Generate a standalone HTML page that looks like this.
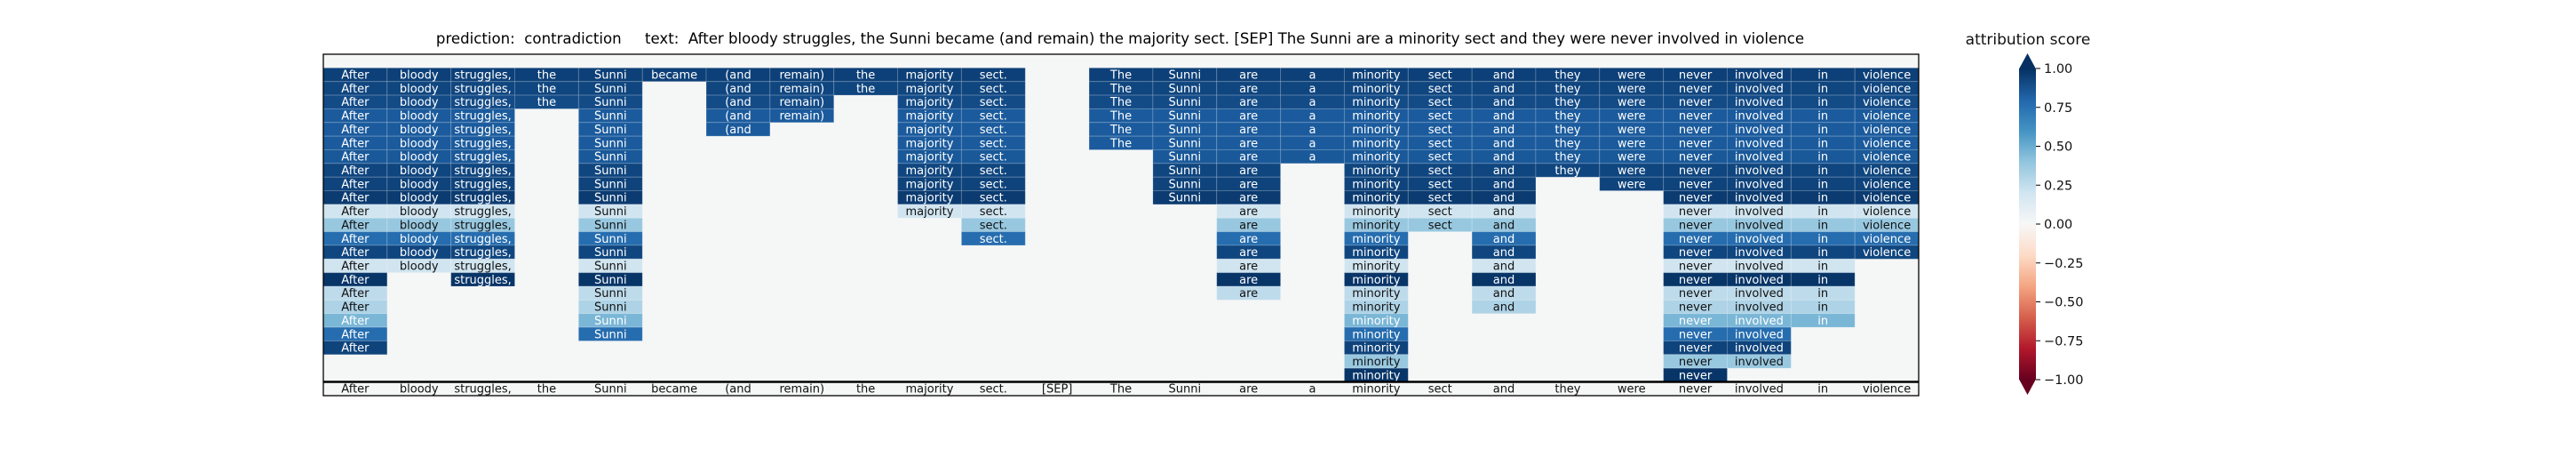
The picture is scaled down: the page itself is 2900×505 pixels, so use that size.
<!DOCTYPE html>
<html><head><meta charset="utf-8">
<style>
html,body{margin:0;padding:0;background:#fff;}
svg text{font-family:"DejaVu Sans","Liberation Sans",sans-serif;}
</style></head>
<body>
<svg id="chart" width="2900" height="500" viewBox="0 0 2900 500" xmlns="http://www.w3.org/2000/svg">
<defs>
<linearGradient id="rdbu" x1="0" y1="1" x2="0" y2="0">
<stop offset="0" stop-color="#67001f"/><stop offset="0.1" stop-color="#b2182b"/><stop offset="0.2" stop-color="#d6604d"/><stop offset="0.3" stop-color="#f4a582"/><stop offset="0.4" stop-color="#fddbc7"/><stop offset="0.5" stop-color="#f7f7f7"/><stop offset="0.6" stop-color="#d1e5f0"/><stop offset="0.7" stop-color="#92c5de"/><stop offset="0.8" stop-color="#4393c3"/><stop offset="0.9" stop-color="#2166ac"/><stop offset="1" stop-color="#053061"/>
</linearGradient>
</defs>
<text x="1261" y="49" font-size="16.6" text-anchor="middle" xml:space="preserve">prediction:  contradiction     text:  After bloody struggles, the Sunni became (and remain) the majority sect. [SEP] The Sunni are a minority sect and they were never involved in violence</text>
<g id="heat"></g>
<g id="cbar"></g>
</svg>
<script>
// Data
const tokens = ["After","bloody","struggles,","the","Sunni","became","(and","remain)","the","majority","sect.","[SEP]","The","Sunni","are","a","minority","sect","and","they","were","never","involved","in","violence"];
// number of filled rows (from top) per token column
const rowCounts = [21,15,16,3,20,1,5,4,2,11,13,0,6,10,17,7,23,12,18,8,9,23,22,19,14];
// attribution score per row (rows 1..23)
const rowScores = [0.94,0.92,0.9,0.84,0.84,0.84,0.85,0.92,0.93,0.96,0.2,0.38,0.77,0.92,0.2,0.98,0.26,0.31,0.46,0.77,0.93,0.38,0.98];
const cbarTicks = [1.0,0.75,0.5,0.25,0.0,-0.25,-0.5,-0.75,-1.0];
const cbarLabels = ["1.00","0.75","0.50","0.25","0.00","\u22120.25","\u22120.50","\u22120.75","\u22121.00"];

const NS="http://www.w3.org/2000/svg";
const X0=364, X1=2160, Y0=61, YSEP=429.5, Y1=445;
const nRows=24;
const colW=(X1-X0)/tokens.length;
const rowH=(YSEP-Y0)/nRows;
const xPos=i=>X0+i*colW;
const yPos=r=>Y0+r*rowH;

const stops=[[103,0,31],[178,24,43],[214,96,77],[244,165,130],[253,219,199],[247,247,247],[209,229,240],[146,197,222],[67,147,195],[33,102,172],[5,48,97]];
function cmap(v){
  let t=(v+1)/2*10; if(t<0)t=0; if(t>10)t=10;
  const i=Math.min(9,Math.floor(t)), f=t-i;
  const a=stops[i], b=stops[i+1];
  return "rgb("+a.map((c,k)=>Math.round(c+(b[k]-c)*f)).join(",")+")";
}
function mk(tag,attrs,parent){const e=document.createElementNS(NS,tag);for(const k in attrs)e.setAttribute(k,attrs[k]);parent.appendChild(e);return e;}

const heat=document.getElementById('heat');
const bg=mk('rect',{x:X0,y:Y0,width:X1-X0,height:Y1-Y0,fill:'#f5f6f6'},heat);



tokens.forEach((tok,c)=>{
  for(let r=0;r<rowCounts[c];r++){
    const v=rowScores[r];
    const cell=mk('rect',{x:xPos(c),y:yPos(r+1),width:colW,height:rowH,fill:cmap(v),stroke:'rgba(255,255,255,0.18)','stroke-width':1},heat);
    
    
    const t=mk('text',{x:xPos(c)+colW/2,y:yPos(r+1)+rowH/2+4.5,'font-size':13,'text-anchor':'middle',fill:v>=0.45?'#ffffff':'#111111'},heat);
    t.textContent=tok;
    
    
  }
  const lb=mk('text',{x:xPos(c)+colW/2,y:YSEP+12,'font-size':13,'text-anchor':'middle',fill:'#111'},heat);
  lb.textContent=tok;
  
  
});
const sep=mk('line',{x1:X0,x2:X1,y1:YSEP,y2:YSEP,stroke:'#000','stroke-width':2.5},heat);


const frame=mk('rect',{x:X0,y:Y0,width:X1-X0,height:Y1-Y0,fill:'none',stroke:'#000','stroke-width':1.3},heat);



// colorbar
const cb=document.getElementById('cbar');
const CX0=2273, CX1=2292, CTOP=77, CBOT=427;
const cy=v=>CBOT-(v+1)/2*(CBOT-CTOP);
const bar=mk('rect',{x:CX0,y:CTOP,width:CX1-CX0,height:CBOT-CTOP,fill:'url(#rdbu)'},cb);


const up=mk('polygon',{points:`${CX0},${CTOP+0.5} ${CX1},${CTOP+0.5} ${(CX0+CX1)/2},60`,fill:'#053061'},cb);


const dn=mk('polygon',{points:`${CX0},${CBOT-0.5} ${CX1},${CBOT-0.5} ${(CX0+CX1)/2},444`,fill:'#67001f'},cb);


cbarTicks.forEach((v,i)=>{
  const tk=mk('line',{x1:CX1,x2:CX1+5,y1:cy(v),y2:cy(v),stroke:'#000','stroke-width':1},cb);
  
  
  const tl=mk('text',{x:CX1+9,y:cy(v)+5,'font-size':14.5,fill:'#111'},cb);
  tl.textContent=cbarLabels[i];
  
  
});
const ct=mk('text',{x:2283,y:50,'font-size':17,'text-anchor':'middle',fill:'#111'},cb);
ct.textContent='attribution score';


</script>
</body></html>
